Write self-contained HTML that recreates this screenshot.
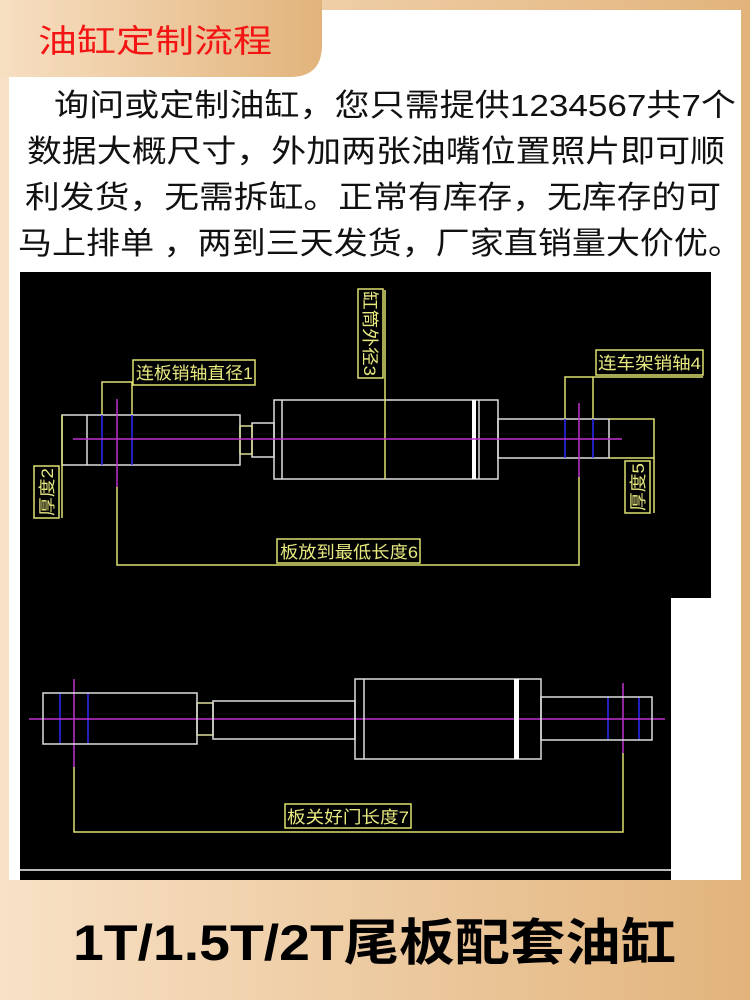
<!DOCTYPE html>
<html><head><meta charset="utf-8"><style>
html,body{margin:0;padding:0;width:750px;height:1000px;overflow:hidden}
svg{display:block}
text{font-family:"Liberation Sans","Noto Sans CJK SC",sans-serif}
</style></head><body>
<svg width="750" height="1000" viewBox="0 0 750 1000" xmlns="http://www.w3.org/2000/svg">
<defs>
<linearGradient id="bg" x1="0" y1="0" x2="1" y2="0">
<stop offset="0" stop-color="#f8e1c6"/><stop offset="1" stop-color="#e2b47c"/>
</linearGradient>
<linearGradient id="tab" x1="0" y1="0" x2="1" y2="0">
<stop offset="0" stop-color="#f7dfc2"/><stop offset="1" stop-color="#e2b47c"/>
</linearGradient>
</defs>
<rect width="750" height="1000" fill="url(#bg)"/>
<rect x="9" y="10" width="732" height="870" fill="#fff"/>
<path d="M0 0 H322 V45 Q322 77 290 77 H0 Z" fill="url(#tab)"/>
<text x="38" y="52" font-size="32" fill="#f41414" textLength="234" lengthAdjust="spacingAndGlyphs">油缸定制流程</text>
<g font-size="31" fill="#111">
<text x="54" y="116" textLength="682" lengthAdjust="spacingAndGlyphs">询问或定制油缸，您只需提供1234567共7个</text>
<text x="27" y="162" textLength="698" lengthAdjust="spacingAndGlyphs">数据大概尺寸，外加两张油嘴位置照片即可顺</text>
<text x="25" y="208" textLength="696" lengthAdjust="spacingAndGlyphs">利发货，无需拆缸。正常有库存，无库存的可</text>
<text x="18" y="254" textLength="724" lengthAdjust="spacingAndGlyphs">马上排单 ，两到三天发货，厂家直销量大价优。</text>
</g>
<path d="M20 272 H711 V598 H671 V880 H20 Z" fill="#000"/>
<line x1="20" y1="870" x2="671" y2="870" stroke="#bbb" stroke-width="2"/>
<g fill="none" stroke-width="1.5">
<g stroke="#ddd">
<rect x="62" y="415" width="178" height="50"/>
<line x1="87" y1="415" x2="87" y2="465"/>
<rect x="252" y="423" width="22" height="34"/>
<rect x="274" y="400" width="224" height="79"/>
<line x1="282" y1="400" x2="282" y2="479"/>
<line x1="479" y1="400" x2="479" y2="479"/>
<rect x="498" y="419" width="111" height="39"/>
</g>
<rect x="472" y="400" width="4" height="79" fill="#fff" stroke="none"/>
<rect x="240" y="426" width="12" height="28" stroke="#dd9"/>
<g stroke="#dde070">
<line x1="62" y1="415" x2="62" y2="518"/>
<rect x="34" y="466" width="25" height="52"/>
<polyline points="102,415 102,382 132,382 132,415"/>
<rect x="133" y="360" width="122" height="25"/>
<line x1="385" y1="290" x2="385" y2="479"/>
<rect x="358" y="289" width="25" height="89"/>
<polyline points="565,419 565,377 703,377"/>
<line x1="593" y1="377" x2="593" y2="419"/>
<rect x="596" y="350" width="107" height="25"/>
<polyline points="609,419 654,419 654,458 609,458"/>
<line x1="654" y1="458" x2="654" y2="513"/>
<rect x="625" y="461" width="25" height="52"/>
<polyline points="117,487 117,565 579,565 579,477"/>
<rect x="277" y="539" width="143" height="24"/>
<polyline points="74,767 74,832 623,832 623,753"/>
<rect x="285" y="804" width="126" height="24"/>
<rect x="197" y="703" width="16" height="32" stroke="#dd9"/>
</g>
<g stroke="#2a2aff">
<line x1="102" y1="415" x2="102" y2="465"/><line x1="132" y1="415" x2="132" y2="465"/>
<line x1="565" y1="419" x2="565" y2="458"/><line x1="593" y1="419" x2="593" y2="458"/>
<line x1="60" y1="693" x2="60" y2="744"/><line x1="88" y1="693" x2="88" y2="744"/>
<line x1="608" y1="697" x2="608" y2="740"/><line x1="639" y1="697" x2="639" y2="740"/>
</g>
<g stroke="#c030d0">
<line x1="73" y1="439" x2="622" y2="439"/>
<line x1="117" y1="399" x2="117" y2="487"/>
<line x1="579" y1="403" x2="579" y2="477"/>
<line x1="29" y1="719" x2="665" y2="719"/>
<line x1="74" y1="679" x2="74" y2="767"/>
<line x1="623" y1="683" x2="623" y2="753"/>
</g>
<g stroke="#ddd">
<rect x="43" y="693" width="154" height="51"/>
<rect x="213" y="701" width="142" height="38"/>
<rect x="355" y="679" width="186" height="80"/>
<line x1="364" y1="679" x2="364" y2="759"/>
<rect x="541" y="697" width="111" height="43"/>
</g>
<rect x="514" y="679" width="5" height="80" fill="#fff" stroke="none"/>
</g>
<g fill="#e8ea80" font-size="17">
<text x="136" y="379" textLength="117" lengthAdjust="spacingAndGlyphs">连板销轴直径1</text>
<text x="598" y="369" textLength="103" lengthAdjust="spacingAndGlyphs">连车架销轴4</text>
<text x="280" y="558" textLength="138" lengthAdjust="spacingAndGlyphs">板放到最低长度6</text>
<text x="287" y="823" textLength="122" lengthAdjust="spacingAndGlyphs">板关好门长度7</text>
<text transform="translate(364,291) rotate(90)" textLength="85" lengthAdjust="spacingAndGlyphs">缸筒外径3</text>
<text transform="translate(53,516) rotate(-90)" textLength="48" lengthAdjust="spacingAndGlyphs">厚度2</text>
<text transform="translate(644,511) rotate(-90)" textLength="48" lengthAdjust="spacingAndGlyphs">厚度5</text>
</g>
<text x="73" y="960" font-size="50" font-weight="bold" fill="#000" textLength="603" lengthAdjust="spacingAndGlyphs">1T/1.5T/2T尾板配套油缸</text>
</svg>
</body></html>
